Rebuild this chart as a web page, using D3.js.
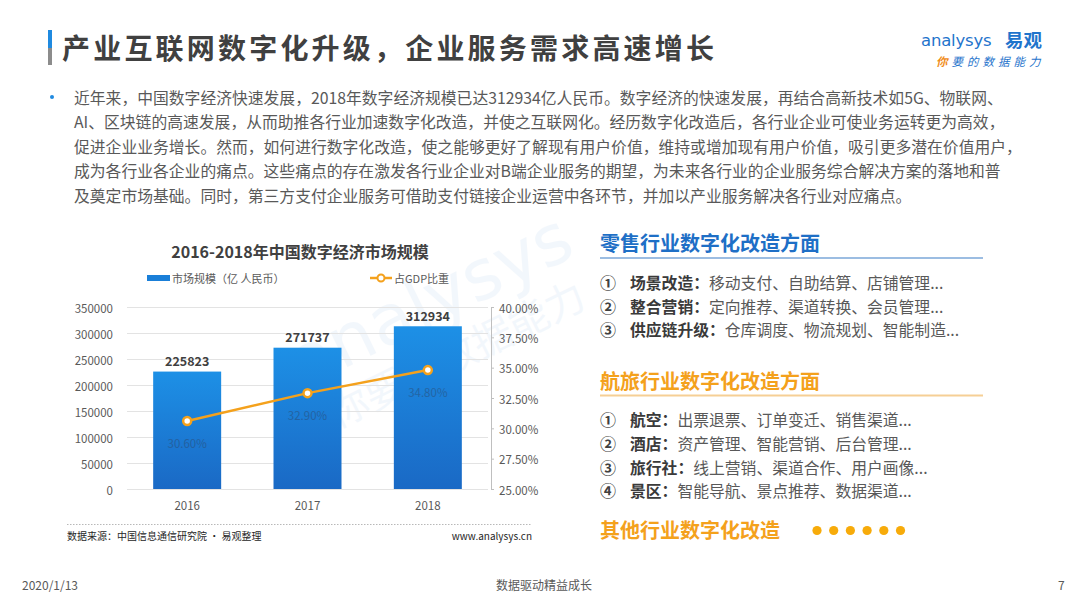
<!DOCTYPE html>
<html>
<head>
<meta charset="utf-8">
<script src="https://cdn.jsdelivr.net/npm/d3@7"></script>
<style>
  body { margin: 0; background: #fff; }
  text { font-family: "Noto Sans CJK SC", "Noto Sans", sans-serif; dominant-baseline: central; }
</style>
</head>
<body>
<svg id="slide" width="1080" height="608"></svg>
<script>
// chart data
const YEARS = ['2016', '2017', '2018'];
const MARKET = [225823, 271737, 312934];
const GDP_SHARE = [30.6, 32.9, 34.8];
const LEFT_TICKS = [0, 50000, 100000, 150000, 200000, 250000, 300000, 350000];
const RIGHT_TICKS = [25, 27.5, 30, 32.5, 35, 37.5, 40];

// slide text
const TITLE = '产业互联网数字化升级，企业服务需求高速增长';
const PARAGRAPH = [
  '近年来，中国数字经济快速发展，2018年数字经济规模已达312934亿人民币。数字经济的快速发展，再结合高新技术如5G、物联网、',
  'AI、区块链的高速发展，从而助推各行业加速数字化改造，并使之互联网化。经历数字化改造后，各行业企业可使业务运转更为高效，',
  '促进企业业务增长。然而，如何进行数字化改造，使之能够更好了解现有用户价值，维持或增加现有用户价值，吸引更多潜在价值用户，',
  '成为各行业各企业的痛点。这些痛点的存在激发各行业企业对B端企业服务的期望，为未来各行业的企业服务综合解决方案的落地和普',
  '及奠定市场基础。同时，第三方支付企业服务可借助支付链接企业运营中各环节，并加以产业服务解决各行业对应痛点。'
];
const RETAIL_ITEMS = [
  ['①', '场景改造：', '移动支付、自助结算、店铺管理...'],
  ['②', '整合营销：', '定向推荐、渠道转换、会员管理...'],
  ['③', '供应链升级：', '仓库调度、物流规划、智能制造...']
];
const TRAVEL_ITEMS = [
  ['①', '航空：', '出票退票、订单变迁、销售渠道...'],
  ['②', '酒店：', '资产管理、智能营销、后台管理...'],
  ['③', '旅行社：', '线上营销、渠道合作、用户画像...'],
  ['④', '景区：', '智能导航、景点推荐、数据渠道...']
];

const BLUE = '#1f74cc';
const ORANGE = '#f4a11c';
const svg = d3.select('#slide');

// ---- header ----
svg.append('rect').attr('x', 48).attr('y', 30).attr('width', 4).attr('height', 18).attr('fill', '#1f8ae0');
svg.append('rect').attr('x', 48).attr('y', 48).attr('width', 4).attr('height', 17).attr('fill', '#8c8c8c');
svg.append('text').attr('x', 62).attr('y', 47).text(TITLE)
  .style('font-size', '28px').style('font-weight', 700).style('letter-spacing', '3.2px').attr('fill', '#404040');

// logo
svg.append('text').attr('x', 921).attr('y', 40).text('analysys')
  .style('font-family', '"DejaVu Sans", sans-serif').style('font-size', '16.5px').style('letter-spacing', '-0.2px')
  .attr('fill', BLUE);
svg.append('text').attr('x', 1005).attr('y', 39).text('易观')
  .style('font-size', '18.5px').style('font-weight', 700).attr('fill', BLUE);
const tag = svg.append('text').attr('x', 936).attr('y', 61)
  .style('font-size', '11.5px').style('font-style', 'italic').style('letter-spacing', '4px');
tag.append('tspan').text('你').attr('fill', '#f08c1a').style('font-weight', 700);
tag.append('tspan').text('要的数据能力').attr('fill', BLUE);

// paragraph
svg.append('circle').attr('cx', 52).attr('cy', 97).attr('r', 2).attr('fill', '#1f8ae0');
svg.selectAll('text.para').data(PARAGRAPH).join('text').attr('class', 'para')
  .attr('x', 74).attr('y', (d, i) => 97 + i * 24.6).text(d => d)
  .style('font-size', '15.8px').attr('fill', '#595959');

// ---- chart ----
const g = svg.append('g');

// watermark
const wm = g.append('g').attr('transform', 'translate(430,300) rotate(-26)').attr('opacity', 0.05);
wm.append('text').attr('text-anchor', 'middle').text('analysys')
  .style('font-family', '"DejaVu Sans", sans-serif').style('font-size', '70px').attr('fill', BLUE);
wm.append('text').attr('y', 58).attr('text-anchor', 'middle').text('你要的数据能力')
  .style('font-size', '40px').attr('fill', BLUE);

const x = d3.scaleBand().domain(YEARS).range([127, 488]).paddingInner(0.435).paddingOuter(0.2175);
const yL = d3.scaleLinear().domain([0, 350000]).range([489, 307]);
const yR = d3.scaleLinear().domain([25, 40]).range([489, 307]);

g.append('text').attr('x', 300).attr('y', 251).attr('text-anchor', 'middle')
  .text('2016-2018年中国数字经济市场规模')
  .style('font-size', '16px').style('font-weight', 700).attr('fill', '#404040');

// legend
g.append('rect').attr('x', 147).attr('y', 275).attr('width', 23).attr('height', 6).attr('fill', '#1a7fd8');
g.append('text').attr('x', 172).attr('y', 278).text('市场规模（亿 人民币）')
  .style('font-size', '11px').attr('fill', '#595959');
g.append('line').attr('x1', 370).attr('x2', 392).attr('y1', 278).attr('y2', 278)
  .attr('stroke', ORANGE).attr('stroke-width', 2.5);
g.append('circle').attr('cx', 381).attr('cy', 278).attr('r', 3.5)
  .attr('fill', '#fff').attr('stroke', ORANGE).attr('stroke-width', 2);
g.append('text').attr('x', 394).attr('y', 278).text('占GDP比重')
  .style('font-size', '11px').attr('fill', '#595959');

// gridlines + left axis
const left = g.append('g').attr('transform', 'translate(127,0)')
  .call(d3.axisLeft(yL).tickValues(LEFT_TICKS).tickSize(-(488 - 127)).tickPadding(14).tickFormat(d3.format('d')));
left.select('.domain').remove();
left.selectAll('line').attr('stroke', '#e3e3e3');
left.selectAll('text').style('font-size', '11.5px').attr('fill', '#595959').attr('dy', null);

// right axis
const right = g.append('g').attr('transform', 'translate(491,0)')
  .call(d3.axisRight(yR).tickValues(RIGHT_TICKS).tickSize(3).tickSizeOuter(0).tickPadding(5)
    .tickFormat(d => d.toFixed(2) + '%'));
right.select('.domain').attr('stroke', '#bfbfbf');
right.selectAll('line').attr('stroke', '#bfbfbf');
right.selectAll('text').style('font-size', '11.5px').attr('fill', '#595959').attr('dy', null);

// x labels
g.append('g').attr('transform', 'translate(0,489)')
  .call(d3.axisBottom(x).tickSize(0).tickPadding(16))
  .call(a => a.select('.domain').remove())
  .selectAll('text').style('font-size', '11.5px').attr('fill', '#595959').attr('dy', null);

// bars
const grad = svg.append('defs').append('linearGradient').attr('id', 'barGrad')
  .attr('x1', 0).attr('x2', 0).attr('y1', 0).attr('y2', 1);
grad.append('stop').attr('offset', '0%').attr('stop-color', '#1d90e6');
grad.append('stop').attr('offset', '100%').attr('stop-color', '#1a69c5');

g.selectAll('rect.bar').data(MARKET).join('rect').attr('class', 'bar')
  .attr('x', (d, i) => x(YEARS[i])).attr('width', x.bandwidth())
  .attr('y', d => yL(d)).attr('height', d => yL(0) - yL(d))
  .attr('fill', 'url(#barGrad)');

g.selectAll('text.barval').data(MARKET).join('text').attr('class', 'barval')
  .attr('x', (d, i) => x(YEARS[i]) + x.bandwidth() / 2).attr('y', d => yL(d) - 11)
  .attr('text-anchor', 'middle').text(d => d)
  .style('font-size', '12.5px').style('font-weight', 700).attr('fill', '#404040');

// line
const cx = i => x(YEARS[i]) + x.bandwidth() / 2;
g.append('path').datum(GDP_SHARE)
  .attr('d', d3.line().x((d, i) => cx(i)).y(d => yR(d)))
  .attr('fill', 'none').attr('stroke', ORANGE).attr('stroke-width', 2.5);
g.selectAll('circle.pt').data(GDP_SHARE).join('circle').attr('class', 'pt')
  .attr('cx', (d, i) => cx(i)).attr('cy', d => yR(d)).attr('r', 4)
  .attr('fill', '#fff').attr('stroke', ORANGE).attr('stroke-width', 2.5);
g.selectAll('text.pct').data(GDP_SHARE).join('text').attr('class', 'pct')
  .attr('x', (d, i) => cx(i)).attr('y', d => yR(d) + 22)
  .attr('text-anchor', 'middle').text(d => d.toFixed(2) + '%')
  .style('font-size', '11.5px').attr('fill', '#2b4a70').attr('opacity', 0.5);

// source
g.append('line').attr('x1', 67).attr('x2', 532).attr('y1', 524.5).attr('y2', 524.5)
  .attr('stroke', '#a6a6a6').attr('stroke-width', 0.8).attr('stroke-dasharray', '1.5,1.5');
g.append('text').attr('x', 67).attr('y', 535).text('数据来源：中国信息通信研究院 · 易观整理')
  .style('font-size', '10px').attr('fill', '#262626');
g.append('text').attr('x', 532).attr('y', 535).attr('text-anchor', 'end').text('www.analysys.cn')
  .style('font-size', '10px').attr('fill', '#262626');

// ---- right panel ----
function section(title, color, lineColor, cy, items, rowYs) {
  svg.append('text').attr('x', 600).attr('y', cy).text(title)
    .style('font-size', '20px').style('font-weight', 700).attr('fill', color);
  svg.append('line').attr('x1', 600).attr('x2', 983).attr('y1', cy + 15.5).attr('y2', cy + 15.5)
    .attr('stroke', lineColor).attr('stroke-width', 2);
  items.forEach((it, i) => {
    svg.append('text').attr('x', 600).attr('y', rowYs[i]).text(it[0])
      .style('font-size', '16px').style('font-weight', 700).attr('fill', '#404040');
    const t = svg.append('text').attr('x', 630).attr('y', rowYs[i]).style('font-size', '15.8px');
    t.append('tspan').text(it[1]).style('font-weight', 700).attr('fill', '#3a3a3a');
    t.append('tspan').text(it[2]).attr('fill', '#595959');
  });
}
section('零售行业数字化改造方面', '#1e6fc6', '#9cbde2', 242.5, RETAIL_ITEMS, [282, 305.5, 329]);
section('航旅行业数字化改造方面', ORANGE, '#f6cf95', 380, TRAVEL_ITEMS, [419, 443, 466.5, 490]);

svg.append('text').attr('x', 600).attr('y', 529.5).text('其他行业数字化改造')
  .style('font-size', '20px').style('font-weight', 700).attr('fill', ORANGE);
svg.selectAll('circle.dot').data(d3.range(6)).join('circle').attr('class', 'dot')
  .attr('cx', d => 817 + d * 16.7).attr('cy', 530.5).attr('r', 4.6).attr('fill', '#f7ab0a');

// ---- footer ----
svg.append('text').attr('x', 22).attr('y', 584).text('2020/1/13')
  .style('font-size', '12px').attr('fill', '#595959');
svg.append('text').attr('x', 544).attr('y', 584).attr('text-anchor', 'middle').text('数据驱动精益成长')
  .style('font-size', '12px').attr('fill', '#595959');
svg.append('text').attr('x', 1058).attr('y', 584).text('7')
  .style('font-size', '12px').attr('fill', '#595959');
</script>
</body>
</html>
